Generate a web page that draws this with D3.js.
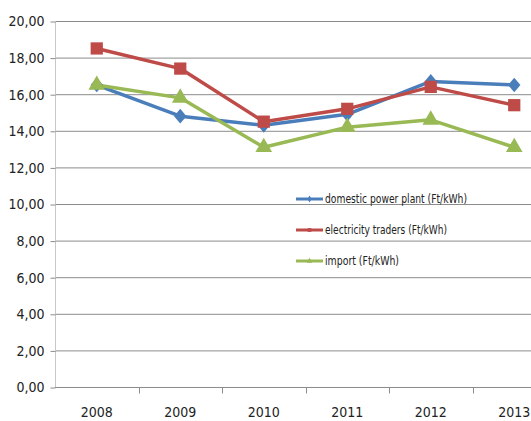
<!DOCTYPE html>
<html><head><meta charset="utf-8">
<script src="https://cdn.jsdelivr.net/npm/d3@7"></script>
<style>body{margin:0;background:#fff;}svg{display:block;}</style>
</head><body>
<svg id="c" width="531" height="421"></svg>
<script>
const years = ["2008","2009","2010","2011","2012","2013"];
const domestic = [16.5, 14.8, 14.3, 14.9, 16.7, 16.5];
const traders = [18.5, 17.4, 14.5, 15.2, 16.4, 15.4];
const imports = [16.5, 15.8, 13.1, 14.2, 14.6, 13.1];
const yTicks = [0,2,4,6,8,10,12,14,16,18,20];
const seriesNames = ["domestic power plant (Ft/kWh)","electricity traders (Ft/kWh)","import (Ft/kWh)"];
const legendWidths = [142, 122, 74];

const FONT = "'DejaVu Sans Condensed','Liberation Sans Narrow',sans-serif";
const svg = d3.select("#c");
const x = d3.scaleBand().domain(years).range([55, 556]);
const y = d3.scaleLinear().domain([0,20]).range([387, 21]);

// gridlines
svg.append("g").selectAll("line").data(yTicks.filter(d=>d>0)).join("line")
  .attr("x1",55).attr("x2",531).attr("y1",d=>y(d)+0.5).attr("y2",d=>y(d)+0.5)
  .attr("stroke","#8c8c8c").attr("stroke-width",1);

// y axis
const ya = svg.append("g").attr("transform","translate(55.5,0.5)")
  .call(d3.axisLeft(y).tickValues(yTicks).tickSize(5).tickPadding(6).tickFormat(d=>d3.format(".2f")(d).replace(".",",")));
ya.select(".domain").attr("stroke","#c8c8c8").attr("d","M0,"+(y(20)-0.5)+"V"+(y(0)-0.5));
ya.selectAll(".tick line").attr("stroke","#8c8c8c");
ya.selectAll("text").attr("font-family",FONT).attr("font-size",14).attr("fill","#222");

// x axis
const xa = svg.append("g").attr("transform","translate(0,"+(y(0)+0.5)+")");
xa.append("line").attr("x1",55).attr("x2",531).attr("stroke","#8c8c8c");
xa.selectAll("line.t").data(years.slice(1)).join("line").attr("class","t")
  .attr("x1",d=>Math.round(x(d))+0.5).attr("x2",d=>Math.round(x(d))+0.5).attr("y1",0).attr("y2",6).attr("stroke","#8c8c8c");
xa.selectAll("text").data(years).join("text")
  .attr("x",d=>x(d)+x.bandwidth()/2).attr("y",29).attr("text-anchor","middle")
  .attr("font-family",FONT).attr("font-size",14).attr("fill","#222").text(d=>d);

const series = [
  {name:seriesNames[0], vals:domestic, color:"#4a7ebb", sym:d3.symbolDiamond, size:110},
  {name:seriesNames[1], vals:traders, color:"#be4b48", sym:d3.symbolSquare, size:150},
  {name:seriesNames[2], vals:imports, color:"#98b954", sym:d3.symbolTriangle, size:120}
];
const cx = d => x(d)+x.bandwidth()/2;
const line = d3.line().x((v,i)=>cx(years[i])).y(v=>y(v));
series.forEach(s=>{
  svg.append("path").attr("d",line(s.vals)).attr("fill","none").attr("stroke",s.color).attr("stroke-width",3.5).attr("stroke-linejoin","round");
});
series.forEach(s=>{
  svg.append("g").selectAll("path").data(s.vals).join("path")
    .attr("transform",(v,i)=>"translate("+cx(years[i])+","+y(v)+")"+(s.sym===d3.symbolDiamond?" scale(1.1,0.75)":""))
    .attr("d",d3.symbol().type(s.sym).size(s.size)).attr("fill",s.color);
});

// legend
const lg = svg.append("g");
series.forEach((s,i)=>{
  const ly = 199 + i*31;
  lg.append("line").attr("x1",296).attr("x2",323).attr("y1",ly).attr("y2",ly).attr("stroke",s.color).attr("stroke-width",3);
  lg.append("path").attr("transform","translate(309.5,"+ly+")").attr("d",d3.symbol().type(s.sym).size(14)).attr("fill",s.color);
  lg.append("text").attr("x",325).attr("y",ly+4).attr("font-family",FONT).attr("font-size",12)
    .attr("textLength",legendWidths[i]).attr("lengthAdjust","spacingAndGlyphs").attr("fill","#222").text(s.name);
});
</script>
</body></html>
